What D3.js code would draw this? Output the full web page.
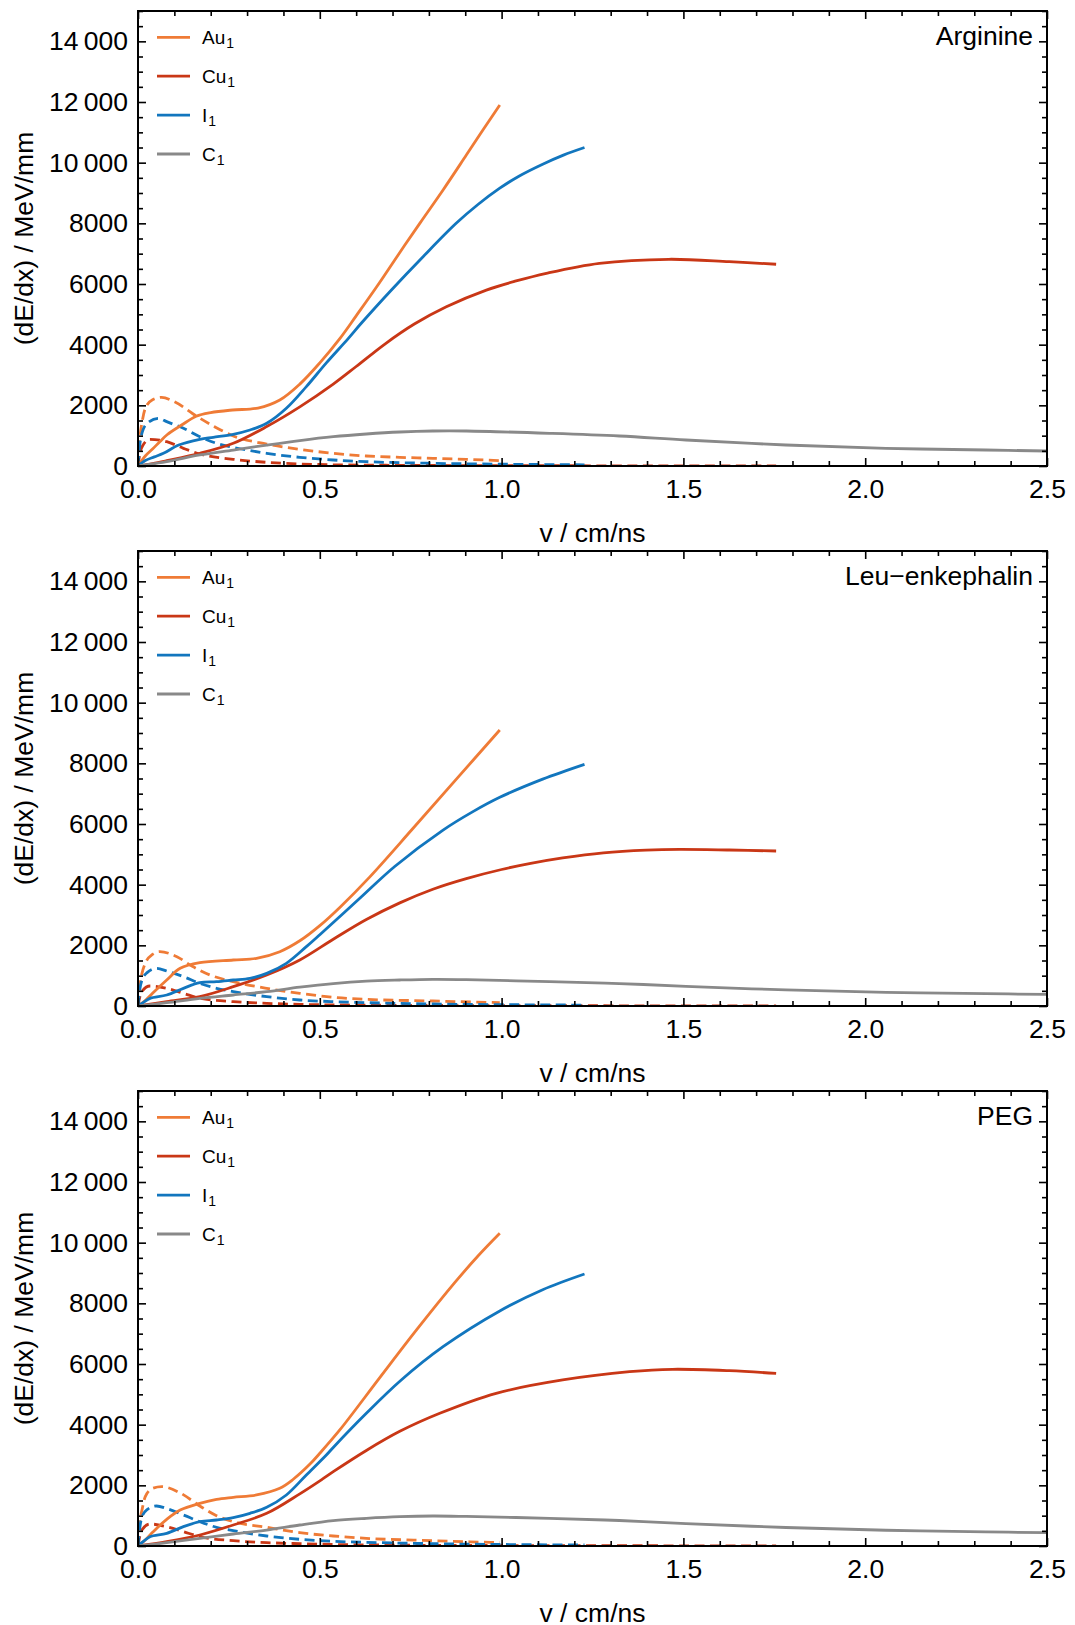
<!DOCTYPE html>
<html><head><meta charset="utf-8">
<script src="https://cdn.jsdelivr.net/npm/d3@7"></script>
<style>body{margin:0;background:#fff}svg{display:block;font-family:"Liberation Sans",Arial,Helvetica,sans-serif}</style>
</head><body><svg id="c" width="1075" height="1625"></svg>
<script>
// ---------- data ----------
const panelNames = ["Arginine", "Leu\u2212enkephalin", "PEG"];
const seriesNames = ["Au", "Cu", "I", "C"];
const seriesColors = ["#EF7B36", "#C93716", "#1276BE", "#898989"];
const xMajorTicks = [0, 0.5, 1.0, 1.5, 2.0, 2.5];
const xTickLabels = ["0.0", "0.5", "1.0", "1.5", "2.0", "2.5"];
const yMajorTicks = [0, 2000, 4000, 6000, 8000, 10000, 12000, 14000];
const yTickLabels = ["0", "2000", "4000", "6000", "8000", "10\u2009000", "12\u2009000", "14\u2009000"];

// Arginine – solid (electronic) curves
const argAu = [[0,0],[0.02,330],[0.04,560],[0.06,800],[0.08,1030],[0.12,1350],[0.16,1640],[0.2,1760],[0.26,1846],[0.33,1910],[0.39,2176],[0.445,2700],[0.5,3400],[0.555,4200],[0.6,4950],[0.656,5900],[0.715,6950],[0.775,8000],[0.839,9100],[0.903,10250],[0.95,11100],[0.995,11900]];
const argCu = [[0,0],[0.04,80],[0.079,176],[0.17,418],[0.262,748],[0.354,1300],[0.445,1950],[0.537,2700],[0.6,3280],[0.68,4030],[0.76,4680],[0.848,5250],[0.958,5800],[1.04,6100],[1.123,6353],[1.269,6683],[1.46,6815],[1.626,6737],[1.755,6651]];
const argI  = [[0,0],[0.02,180],[0.045,300],[0.07,418],[0.112,692],[0.17,880],[0.207,946],[0.262,1045],[0.308,1187],[0.354,1407],[0.408,1902],[0.463,2616],[0.518,3400],[0.578,4200],[0.614,4705],[0.697,5803],[0.784,6900],[0.875,8000],[0.935,8620],[0.994,9150],[1.05,9570],[1.113,9950],[1.17,10250],[1.228,10500]];
const argC  = [[0,0],[0.079,143],[0.17,363],[0.262,527],[0.354,690],[0.445,840],[0.537,967],[0.628,1055],[0.72,1121],[0.811,1154],[0.903,1154],[1.132,1077],[1.324,989],[1.507,857],[1.782,692],[2.057,583],[2.332,527],[2.5,495]];
// Arginine – dashed (nuclear) curves
const argAuN = [[0,0],[0.005,900],[0.012,1500],[0.02,1900],[0.04,2187],[0.065,2264],[0.1,2120],[0.16,1650],[0.21,1300],[0.262,990],[0.354,725],[0.445,550],[0.537,418],[0.628,330],[0.72,286],[0.811,253],[0.903,220],[0.995,176]];
const argCuN = [[0,0],[0.005,400],[0.012,650],[0.033,880],[0.079,802],[0.125,583],[0.17,396],[0.262,220],[0.354,121],[0.445,66],[0.537,40],[0.8,18],[1.2,8],[1.755,4]];
const argIN  = [[0,0],[0.005,700],[0.011,1088],[0.025,1400],[0.056,1573],[0.079,1462],[0.125,1242],[0.17,967],[0.216,748],[0.262,616],[0.354,418],[0.445,286],[0.537,198],[0.628,143],[0.811,88],[1.0,60],[1.228,40]];

// Leu-enkephalin – solid
const leuAu = [[0,0],[0.02,180],[0.04,420],[0.079,857],[0.116,1242],[0.17,1429],[0.262,1517],[0.326,1572],[0.39,1791],[0.445,2150],[0.5,2650],[0.555,3250],[0.637,4250],[0.756,5850],[0.875,7470],[0.995,9100]];
const leuCu = [[0,0],[0.079,143],[0.17,308],[0.262,637],[0.354,1022],[0.445,1517],[0.537,2200],[0.628,2850],[0.72,3400],[0.811,3850],[0.903,4200],[1.0,4500],[1.08,4700],[1.168,4880],[1.28,5050],[1.397,5140],[1.489,5165],[1.626,5143],[1.755,5110]];
const leuI  = [[0,0],[0.015,120],[0.033,253],[0.079,363],[0.125,583],[0.17,769],[0.216,802],[0.262,857],[0.308,912],[0.354,1077],[0.408,1407],[0.463,1956],[0.5,2350],[0.61,3550],[0.706,4600],[0.839,5800],[0.92,6400],[0.995,6880],[1.113,7480],[1.228,7968]];
const leuC  = [[0,0],[0.079,110],[0.17,253],[0.262,363],[0.354,473],[0.445,620],[0.537,740],[0.628,820],[0.72,857],[0.811,879],[0.903,870],[1.132,802],[1.324,740],[1.507,650],[1.782,530],[2.057,450],[2.332,405],[2.5,385]];
// Leu-enkephalin – dashed
const leuAuN = [[0,0],[0.005,700],[0.011,1077],[0.02,1407],[0.04,1700],[0.06,1791],[0.107,1626],[0.148,1319],[0.198,1022],[0.262,802],[0.354,583],[0.445,418],[0.537,286],[0.628,220],[0.811,165],[0.995,110]];
const leuCuN = [[0,0],[0.005,300],[0.012,500],[0.033,659],[0.079,583],[0.125,418],[0.17,253],[0.262,143],[0.354,88],[0.445,55],[0.6,30],[1.0,12],[1.755,4]];
const leuIN  = [[0,0],[0.005,550],[0.011,857],[0.025,1100],[0.051,1242],[0.08,1150],[0.125,967],[0.17,747],[0.216,583],[0.262,473],[0.354,308],[0.445,198],[0.537,143],[0.628,110],[0.811,66],[1.0,45],[1.228,30]];

// PEG – solid
const pegAu = [[0,0],[0.02,200],[0.04,450],[0.079,880],[0.116,1187],[0.17,1407],[0.216,1539],[0.262,1605],[0.326,1682],[0.39,1902],[0.427,2200],[0.473,2700],[0.5,3056],[0.555,3825],[0.665,5550],[0.766,7122],[0.871,8680],[0.935,9560],[0.995,10310]];
const pegCu = [[0,0],[0.079,143],[0.17,363],[0.262,692],[0.354,1077],[0.445,1720],[0.509,2220],[0.537,2450],[0.628,3150],[0.72,3780],[0.83,4375],[0.985,5034],[1.168,5473],[1.352,5747],[1.47,5826],[1.626,5780],[1.755,5690]];
const pegI  = [[0,0],[0.015,150],[0.033,308],[0.079,418],[0.125,637],[0.17,802],[0.216,857],[0.262,934],[0.308,1077],[0.354,1275],[0.408,1682],[0.463,2341],[0.518,3000],[0.537,3250],[0.628,4375],[0.724,5473],[0.839,6571],[0.995,7750],[1.113,8450],[1.228,8968]];
const pegC  = [[0,0],[0.079,110],[0.17,253],[0.262,396],[0.354,527],[0.445,692],[0.537,835],[0.628,912],[0.72,967],[0.811,989],[0.903,975],[1.132,912],[1.324,840],[1.507,740],[1.782,610],[2.057,520],[2.332,465],[2.5,440]];
// PEG – dashed
const pegAuN = [[0,0],[0.005,800],[0.011,1187],[0.02,1627],[0.04,1900],[0.065,1956],[0.116,1750],[0.17,1319],[0.216,1000],[0.262,802],[0.354,615],[0.445,440],[0.537,330],[0.628,253],[0.811,176],[0.995,110]];
const pegCuN = [[0,0],[0.005,330],[0.012,550],[0.033,725],[0.079,637],[0.125,473],[0.17,308],[0.262,176],[0.354,110],[0.445,77],[0.6,40],[1.0,15],[1.755,5]];
const pegIN  = [[0,0],[0.005,600],[0.011,967],[0.025,1200],[0.051,1319],[0.08,1230],[0.125,1022],[0.17,802],[0.216,615],[0.262,505],[0.354,330],[0.445,220],[0.537,154],[0.628,121],[0.811,77],[1.0,50],[1.228,35]];

const solidSets = [[argAu, argCu, argI, argC], [leuAu, leuCu, leuI, leuC], [pegAu, pegCu, pegI, pegC]];
const dashedSets = [[argAuN, argCuN, argIN], [leuAuN, leuCuN, leuIN], [pegAuN, pegCuN, pegIN]];

// ---------- layout ----------
const svg = d3.select("#c");
const L = 138, R = 1047, PH = 455;
const tops = [11, 551, 1091];
const FS = 26.5;

const x = d3.scaleLinear().domain([0, 2.5]).range([L, R]);
const y = d3.scaleLinear().domain([0, 15000]).range([PH, 0]);
const xMinor = d3.range(0, 26).map(i => i / 10).filter(v => !xMajorTicks.some(m => Math.abs(m - v) < 1e-9));
const yMinor = d3.range(0, 15001, 500).filter(v => !yMajorTicks.includes(v));

const solidLine = d3.line().x(d => x(d[0])).y(d => y(d[1])).curve(d3.curveCatmullRom.alpha(0.5));
const dashLine = d3.line().x(d => x(d[0])).y(d => y(d[1])).curve(d3.curveMonotoneX);

tops.forEach((top, p) => {
  const g = svg.append("g").attr("transform", `translate(0,${top})`);
  const cid = "clip" + p;
  g.append("clipPath").attr("id", cid).append("rect")
    .attr("x", L).attr("y", 0).attr("width", R - L).attr("height", PH);
  const plot = g.append("g").attr("clip-path", `url(#${cid})`);

  dashedSets[p].forEach((s, i) => {
    plot.append("path").datum(s).attr("d", dashLine)
      .attr("fill", "none").attr("stroke", seriesColors[i])
      .attr("stroke-width", 2.8).attr("stroke-dasharray", "10,5.5");
  });
  solidSets[p].forEach((s, i) => {
    plot.append("path").datum(s).attr("d", solidLine)
      .attr("fill", "none").attr("stroke", seriesColors[i])
      .attr("stroke-width", 2.8).attr("stroke-linecap", "butt");
  });

  const styleAxis = sel => {
    sel.select(".domain").remove();
    sel.selectAll(".tick line").attr("stroke", "#000").attr("stroke-width", 1.6);
    sel.selectAll("text").attr("font-size", FS).attr("fill", "#000")
      .attr("font-family", '"Liberation Sans", Arial, sans-serif');
  };
  const fmtX = v => xTickLabels[xMajorTicks.findIndex(m => Math.abs(m - v) < 1e-9)];
  const fmtY = v => yTickLabels[yMajorTicks.indexOf(v)];

  g.append("g").attr("transform", `translate(0,${PH})`)
    .call(d3.axisBottom(x).tickValues(xMajorTicks).tickSizeInner(-8).tickSizeOuter(0).tickPadding(13.5).tickFormat(fmtX)).call(styleAxis);
  g.append("g").attr("transform", `translate(0,${PH})`)
    .call(d3.axisBottom(x).tickValues(xMinor).tickSizeInner(-5).tickSizeOuter(0).tickFormat("")).call(styleAxis);
  g.append("g")
    .call(d3.axisTop(x).tickValues(xMajorTicks).tickSizeInner(-8).tickSizeOuter(0).tickFormat("")).call(styleAxis);
  g.append("g")
    .call(d3.axisTop(x).tickValues(xMinor).tickSizeInner(-5).tickSizeOuter(0).tickFormat("")).call(styleAxis);
  g.append("g").attr("transform", `translate(${L},0)`)
    .call(d3.axisLeft(y).tickValues(yMajorTicks).tickSizeInner(-8).tickSizeOuter(0).tickPadding(10).tickFormat(fmtY)).call(styleAxis);
  g.append("g").attr("transform", `translate(${L},0)`)
    .call(d3.axisLeft(y).tickValues(yMinor).tickSizeInner(-5).tickSizeOuter(0).tickFormat("")).call(styleAxis);
  g.append("g").attr("transform", `translate(${R},0)`)
    .call(d3.axisRight(y).tickValues(yMajorTicks).tickSizeInner(-8).tickSizeOuter(0).tickFormat("")).call(styleAxis);
  g.append("g").attr("transform", `translate(${R},0)`)
    .call(d3.axisRight(y).tickValues(yMinor).tickSizeInner(-5).tickSizeOuter(0).tickFormat("")).call(styleAxis);

  g.append("rect").attr("x", L).attr("y", 0).attr("width", R - L).attr("height", PH)
    .attr("fill", "none").attr("stroke", "#000").attr("stroke-width", 2);

  g.append("text").attr("x", 1033).attr("y", 34).attr("text-anchor", "end")
    .attr("font-size", FS).text(panelNames[p]);

  seriesNames.forEach((n, i) => {
    const ly = 26.3 + i * 38.9;
    g.append("line").attr("x1", 157).attr("x2", 190).attr("y1", ly).attr("y2", ly)
      .attr("stroke", seriesColors[i]).attr("stroke-width", 2.8);
    const t = g.append("text").attr("x", 202).attr("y", ly + 7).attr("font-size", 19);
    t.append("tspan").text(n);
    t.append("tspan").attr("font-size", 14).attr("dy", 4).attr("dx", 1).text("1");
  });

  g.append("text").attr("x", (L + R) / 2).attr("y", PH + 76).attr("text-anchor", "middle")
    .attr("font-size", FS).text("v / cm/ns");
  g.append("text").attr("transform", `translate(24,${PH / 2}) rotate(-90)`)
    .attr("text-anchor", "middle").attr("dy", "0.35em")
    .attr("font-size", FS).text("(dE/dx) / MeV/mm");
});
</script>
</body></html>
